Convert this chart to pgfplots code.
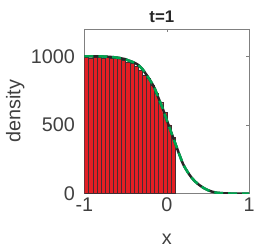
\documentclass[border=0pt]{standalone}
\usepackage{pgfplots}
\pgfplotsset{compat=1.18}
\usepackage{fontspec}
\setmainfont{Liberation Sans}
\definecolor{barred}{RGB}{228,30,36}
\definecolor{baredge}{RGB}{70,45,50}
\definecolor{mgreen}{RGB}{0,165,80}
\definecolor{txt}{RGB}{64,64,64}
\begin{document}
\begin{tikzpicture}
\begin{axis}[
  name=ax,
  scale only axis,
  width=166bp, height=166bp,
  xmin=-1, xmax=1, ymin=0, ymax=1200,
  xtick={-1,0,1}, ytick={0,500,1000},
  tick align=inside,
  major tick length=3bp,
  axis line style={black!50},
  tick style={black!50, line width=0.5bp},
  every tick label/.append style={font=\fontsize{20}{22}\selectfont, text=txt},
  /pgf/number format/assume math mode=true,
  /pgf/number format/1000 sep={},
  xticklabel style={yshift=-1bp},
  yticklabel style={xshift=-6bp},
  xlabel={x}, ylabel={density},
  label style={font=\fontsize{20}{22}\selectfont, text=txt},
  xlabel style={at={(axis description cs:0.5,-0.28)}, anchor=center},
  ylabel style={at={(axis description cs:-0.42,0.5)}, anchor=center},
  title={t=1},
  every axis title shift=0pt,
  title style={font=\bfseries\fontsize{17}{19}\selectfont, text=black!85, at={(axis description cs:0.47,1.07)}, anchor=center},
  clip=true,
]
\addplot[ybar, bar width=0.05, fill=barred, draw=baredge, line width=0.25bp] coordinates {
(-0.975,995) (-0.925,990) (-0.875,992) (-0.825,994) (-0.775,988) (-0.725,994)
(-0.675,990) (-0.625,985) (-0.575,986) (-0.525,975) (-0.475,960) (-0.425,950)
(-0.375,925) (-0.325,900) (-0.275,862) (-0.225,840) (-0.175,790) (-0.125,730)
(-0.075,665) (-0.025,590) (0.025,500) (0.075,410)
};
\addplot[black!85, line width=2.5bp, smooth] coordinates {
(-1,1000) (-0.9,1000) (-0.8,999) (-0.7,996) (-0.6,990) (-0.5,978) (-0.45,966)
(-0.4,955) (-0.35,938) (-0.3,910) (-0.25,868) (-0.2,822) (-0.15,770) (-0.1,695)
(-0.05,620) (0,535) (0.05,452) (0.1,370) (0.15,288) (0.2,212) (0.25,160)
(0.3,117) (0.35,85) (0.4,60) (0.45,40) (0.5,25) (0.55,14) (0.6,7) (0.7,2)
(0.8,0.5) (0.9,0) (1,0)
};
\addplot[mgreen, line width=2.5bp, smooth, dash pattern=on 9bp off 5bp] coordinates {
(-1,1000) (-0.9,1000) (-0.8,999) (-0.7,996) (-0.6,990) (-0.5,978) (-0.45,966)
(-0.4,955) (-0.35,938) (-0.3,910) (-0.25,868) (-0.2,822) (-0.15,770) (-0.1,695)
(-0.05,620) (0,535) (0.05,452) (0.1,370) (0.15,288) (0.2,212) (0.25,160)
(0.3,117) (0.35,85) (0.4,60) (0.45,40) (0.5,25) (0.55,14) (0.6,7) (0.7,2)
(0.8,0.5) (0.9,0) (1,0)
};
\end{axis}
\path (ax.south west) ++(-85bp,-56bp) rectangle ++(258bp,251bp);
\end{tikzpicture}
\end{document}
